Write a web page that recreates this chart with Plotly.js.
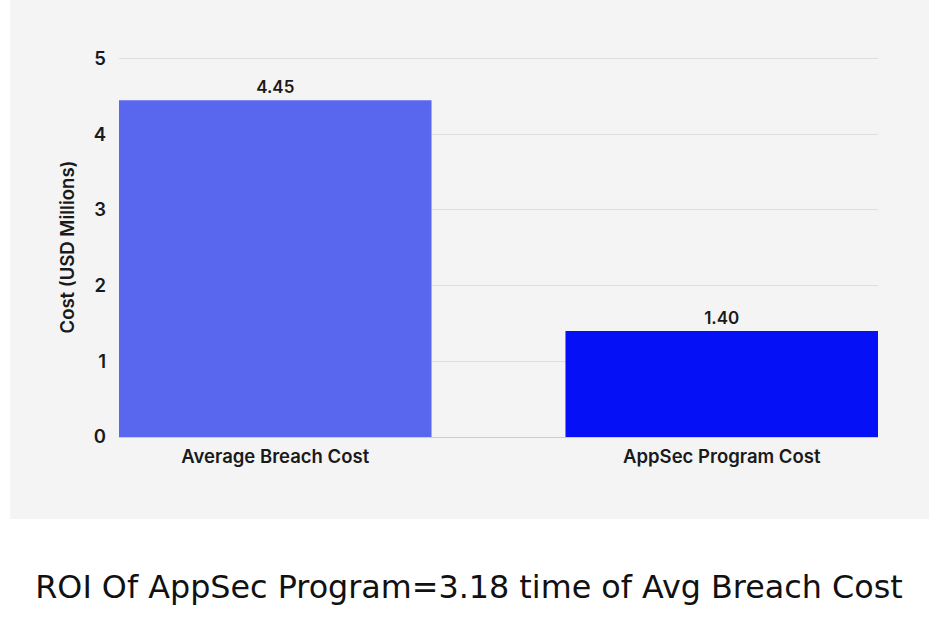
<!DOCTYPE html>
<html>
<head>
<meta charset="utf-8">
<script src="https://cdn.plot.ly/plotly-3.0.1.min.js"></script>
<style>
  html, body { margin: 0; padding: 0; background: #ffffff; }
  #chart { width: 938px; height: 617px; }
</style>
</head>
<body>
<div id="chart"></div>
<script>
// Cost comparison, in USD millions
const categories = ['Average Breach Cost', 'AppSec Program Cost'];
const costs = [4.45, 1.40];
const barColors = ['#5966ee', '#0510f6'];
const yTicks = [0, 1, 2, 3, 4, 5];
const footerText = 'ROI Of AppSec Program=3.18 time of Avg Breach Cost';

const labelFont = { family: 'Inter, "Noto Sans", sans-serif', size: 18.5, color: '#1a1a1a', weight: 600 };

const trace = {
  type: 'bar',
  x: categories,
  y: costs,
  width: 0.7,
  marker: { color: barColors },
  text: costs.map(v => v.toFixed(2)),
  textposition: 'outside',
  textfont: Object.assign({}, labelFont, { size: 17 }),
  cliponaxis: false,
  hoverinfo: 'x+y'
};

const layout = {
  width: 938,
  height: 617,
  margin: { l: 119, r: 60, t: 56.5, b: 180 },
  paper_bgcolor: '#ffffff',
  plot_bgcolor: 'rgba(0,0,0,0)',
  showlegend: false,
  shapes: [{
    type: 'rect', xref: 'paper', yref: 'paper', layer: 'below',
    x0: -0.1436, x1: 1.0672, y0: -0.2155, y1: 1.15,
    fillcolor: '#f4f4f4', line: { width: 0 }
  }],
  xaxis: {
    type: 'category',
    range: [-0.35, 1.35],
    showgrid: false,
    showline: false,
    zeroline: false,
    ticks: '',
    tickfont: labelFont,
    ticklabelstandoff: 6
  },
  yaxis: {
    range: [0, 5.02],
    tickvals: yTicks,
    ticktext: yTicks.map(String),
    showgrid: true,
    gridcolor: '#dedede',
    gridwidth: 1,
    zeroline: true,
    zerolinecolor: '#cccccc',
    zerolinewidth: 1,
    showline: false,
    ticks: '',
    tickfont: labelFont,
    ticklabelstandoff: 12,
    title: { text: 'Cost (USD Millions)', font: labelFont, standoff: 14 }
  },
  title: {
    text: footerText,
    xref: 'container', yref: 'container',
    x: 0.5, xanchor: 'center',
    y: 1 - 587 / 617, yanchor: 'middle',
    font: { family: '"DejaVu Sans", sans-serif', size: 31.8, color: '#111111' }
  }
};

Plotly.newPlot('chart', [trace], layout, { displayModeBar: false, staticPlot: true });
</script>
</body>
</html>
